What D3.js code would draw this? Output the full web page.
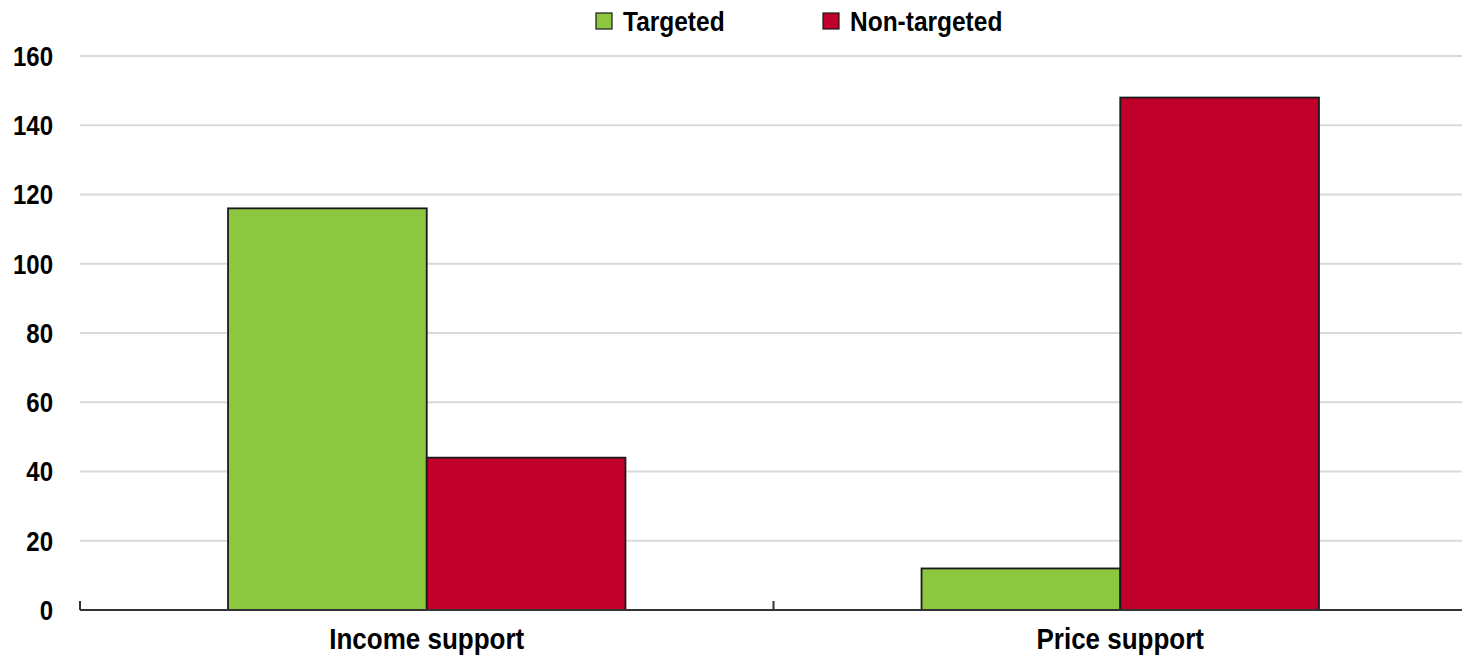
<!DOCTYPE html>
<html>
<head>
<meta charset="utf-8">
<script src="https://cdn.jsdelivr.net/npm/d3@7"></script>
<style>
  html, body { margin: 0; padding: 0; background: #fff; }
  svg text { font-family: "Liberation Sans", Arial, sans-serif; font-weight: bold; fill: #000; }
</style>
</head>
<body>
<svg id="chart" width="1462" height="658"></svg>
<script>
const categories = ["Income support", "Price support"];
const seriesNames = ["Targeted", "Non-targeted"];
const targeted = [116, 12];
const nonTargeted = [44, 148];
const yTicks = [0, 20, 40, 60, 80, 100, 120, 140, 160];
const colors = ["#8dc63f", "#c0002a"];

const seriesValues = [targeted, nonTargeted];
const data = categories.map((c, i) => ({
  category: c,
  values: seriesNames.map((s, j) => ({ series: s, value: seriesValues[j][i] }))
}));

const svg = d3.select("#chart");
const mLeft = 80, mRight = 1467, mTop = 56, mBottom = 610;
const sy = 1.13; // vertical stretch of text

const y = d3.scaleLinear().domain([0, 160]).range([mBottom, mTop]);
const x0 = d3.scaleBand().domain(categories).range([mLeft, mRight]).padding(0);
const x1 = d3.scaleBand().domain(seriesNames).range([0, x0.bandwidth()])
  .paddingInner(0).paddingOuter(0.745);
const color = d3.scaleOrdinal().domain(seriesNames).range(colors);

// gridlines
svg.append("g").selectAll("line")
  .data(yTicks.filter(d => d > 0))
  .join("line")
  .attr("x1", mLeft).attr("x2", 1462)
  .attr("y1", d => y(d)).attr("y2", d => y(d))
  .attr("stroke", "#d9d9d9").attr("stroke-width", 2);

// y tick labels
svg.append("g").selectAll("text")
  .data(yTicks)
  .join("text")
  .attr("transform", d => `translate(53,${y(d)}) scale(1,${sy})`)
  .attr("dy", "0.36em")
  .attr("text-anchor", "end")
  .style("font-size", "24px")
  .text(d => d);

// bars
const groups = svg.append("g").selectAll("g")
  .data(data)
  .join("g")
  .attr("transform", d => `translate(${x0(d.category)},0)`);

groups.selectAll("rect")
  .data(d => d.values)
  .join("rect")
  .attr("x", d => x1(d.series))
  .attr("width", x1.bandwidth())
  .attr("y", d => y(d.value))
  .attr("height", d => y(0) - y(d.value))
  .attr("fill", d => color(d.series))
  .attr("stroke", "#1a1a1a")
  .attr("stroke-width", 1.8);

// x axis
const xAxis = svg.append("g");
xAxis.append("line")
  .attr("x1", mLeft).attr("x2", 1462)
  .attr("y1", mBottom).attr("y2", mBottom)
  .attr("stroke", "#333").attr("stroke-width", 2);
const boundaries = categories.map(c => x0(c)).concat([x0(categories[categories.length - 1]) + x0.bandwidth()]);
xAxis.selectAll("line.tick")
  .data(boundaries)
  .join("line")
  .attr("class", "tick")
  .attr("x1", d => d).attr("x2", d => d)
  .attr("y1", mBottom).attr("y2", mBottom - 9)
  .attr("stroke", "#333").attr("stroke-width", 2);
xAxis.selectAll("text")
  .data(categories)
  .join("text")
  .attr("transform", d => `translate(${x0(d) + x0.bandwidth() / 2},649) scale(1,${sy})`)
  .attr("text-anchor", "middle")
  .style("font-size", "26px")
  .text(d => d);

// legend
const legendX = [596, 823];
const legend = svg.append("g").selectAll("g")
  .data(seriesNames)
  .join("g")
  .attr("transform", (d, i) => `translate(${legendX[i]},13)`);
legend.append("rect")
  .attr("width", 16).attr("height", 16)
  .attr("fill", d => color(d))
  .attr("stroke", "#1a1a1a").attr("stroke-width", 1.2);
legend.append("text")
  .attr("transform", `translate(27,18) scale(1,${sy})`)
  .style("font-size", "24.5px")
  .text(d => d);
</script>
</body>
</html>
